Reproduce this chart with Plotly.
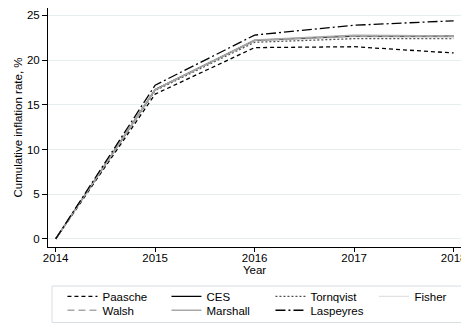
import plotly.graph_objects as go

# Cumulative inflation (%) by index formula, 2014 = 0
years = [2014, 2015, 2016, 2017, 2018]
paasche = [0, 16.2, 21.4, 21.5, 20.8]
ces = [0, 16.7, 22.2, 22.7, 22.7]
tornqvist = [0, 16.6, 22.0, 22.4, 22.4]
fisher = [0, 16.7, 22.1, 22.6, 22.5]
walsh = [0, 16.7, 22.2, 22.7, 22.7]
marshall = [0, 16.7, 22.25, 22.8, 22.7]
laspeyres = [0, 17.2, 22.8, 23.9, 24.4]

y_ticks = [0, 5, 10, 15, 20, 25]

FONT = "Liberation Sans, Arial, Helvetica, sans-serif"

series = [
    ("Paasche", paasche, "#000000", "4px,3px", "legend"),
    ("CES", ces, "#000000", "solid", "legend"),
    ("Tornqvist", tornqvist, "#505050", "2px,2px", "legend"),
    ("Fisher", fisher, "#c4c4c4", "1px,1px", "legend"),
    ("Walsh", walsh, "#a8a8a8", "7px,4px", "legend2"),
    ("Marshall", marshall, "#a8a8a8", "solid", "legend2"),
    ("Laspeyres", laspeyres, "#000000", "10px,3px,2px,3px", "legend2"),
]

fig = go.Figure()
for name, vals, color, dash, leg in series:
    fig.add_trace(go.Scatter(
        x=years, y=vals, name=name, mode="lines",
        line=dict(color=color, width=1.3, dash=dash),
        legend=leg,
    ))

legend_style = dict(
    orientation="h", xanchor="left", yanchor="top",
    bgcolor="rgba(0,0,0,0)", borderwidth=0,
    entrywidth=59, entrywidthmode="pixels",
    font=dict(family=FONT, size=11.5, color="#000000"),
)

fig.update_layout(
    width=461, height=323,
    margin=dict(l=48, r=0, t=8, b=76, autoexpand=False),
    paper_bgcolor="white", plot_bgcolor="white",
    font=dict(family=FONT, size=11.5, color="#000000"),
    showlegend=True,
    legend=dict(x=0.035, y=-0.146, **legend_style),
    legend2=dict(x=0.035, y=-0.204, **legend_style),
    xaxis=dict(
        range=[2013.923, 2018.074],
        tickmode="array", tickvals=years, ticktext=[str(v) for v in years],
        ticklabeloverflow="allow", ticklabelstandoff=-4,
        showgrid=False, zeroline=False,
        showline=True, linecolor="#000000", linewidth=1,
        ticks="outside", ticklen=4, tickcolor="#000000",
        title=dict(text="Year", standoff=2, font=dict(size=11.5)),
    ),
    yaxis=dict(
        range=[-0.9, 25.83],
        tickmode="array", tickvals=y_ticks,
        showgrid=True, gridcolor="#e6eef0", gridwidth=1,
        zeroline=False,
        showline=True, linecolor="#000000", linewidth=1,
        ticks="outside", ticklen=5, tickcolor="#000000",
        title=dict(text="Cumulative inflation rate, %", standoff=1, font=dict(size=11.5)),
    ),
    shapes=[dict(
        type="rect", xref="paper", yref="paper",
        x0=4 / 413, x1=1.05, y0=-(286 - 247) / 239, y1=-(322.5 - 247) / 239,
        line=dict(color="#d6dee1", width=1), fillcolor="rgba(0,0,0,0)",
        layer="above",
    )],
)

fig.write_html("out.html")
